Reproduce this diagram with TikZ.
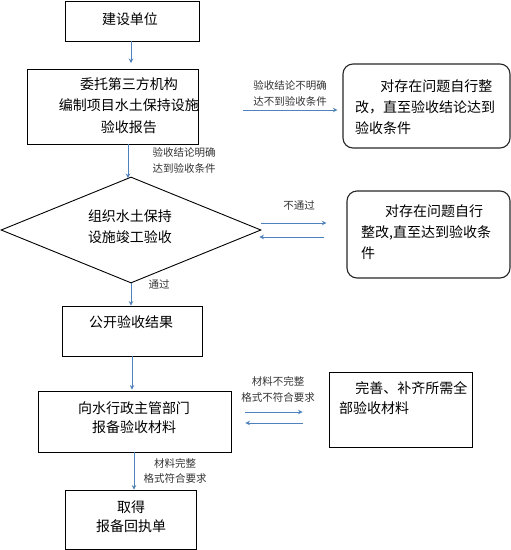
\documentclass[tikz,border=0pt]{standalone}
\usepackage{fontspec}
\setmainfont{Noto Sans CJK SC}
\usetikzlibrary{shapes.geometric,arrows.meta}
\definecolor{arrc}{RGB}{79,129,189}
\begin{document}
\begin{tikzpicture}[x=1pt,y=-1pt,
  box/.style={draw=black,line width=0.9pt,inner sep=0,minimum width=#1},
  rbox/.style={draw=black!85,line width=1.1pt,rounded corners=10pt,inner sep=0,minimum width=#1},
  txt/.style={font=\fontsize{14}{21}\selectfont,align=center,inner sep=0},
  ltxt/.style={font=\fontsize{14}{21}\selectfont,align=left,inner sep=0,anchor=west},
  lbl/.style={font=\fontsize{10.5}{15.5}\selectfont,text=black!80,align=center,inner sep=0},
  arr/.style={draw=arrc,line width=0.9pt,-{Stealth[length=4.5pt,width=4.5pt]}}]
\useasboundingbox (0,0) rectangle (511,550);
% boxes
\node[box=134pt,minimum height=40pt] (b1) at (132,21) {};
\node[txt] (t1) at (130,19) {建设单位};
\node[box=171pt,minimum height=75pt] (b2) at (112.5,106.5) {};
\node[txt,font=\fontsize{14}{21.5}\selectfont] (t2) at (129,105.5) {委托第三方机构\\编制项目水土保持设施\\验收报告};
\node[rbox=167pt,minimum height=84pt] (r1) at (426.5,106) {};
\node[ltxt] (tr1) at (355,107) {\hspace*{1.8em}对存在问题自行整\\改，直至验收结论达到\\验收条件};
\node[diamond,draw=black,line width=0.9pt,inner sep=0,minimum width=260pt,minimum height=106pt] (dia) at (131,230) {};
\node[txt,font=\fontsize{14}{21}\selectfont] (td) at (130,227) {组织水土保持\\设施竣工验收};
\node[rbox=163pt,minimum height=87pt] (r2) at (428.5,234.5) {};
\node[ltxt] (tr2) at (361,232) {\hspace*{1.7em}对存在问题自行\\整改,直至达到验收条\\件};
\node[box=140pt,minimum height=50pt] (b3) at (132,331) {};
\node[txt] (t3) at (131,322) {公开验收结果};
\node[box=193pt,minimum height=61pt] (b4) at (134.5,421.5) {};
\node[txt,font=\fontsize{14}{19}\selectfont] (t4) at (134,417.5) {向水行政主管部门\\报备验收材料};
\node[box=143pt,minimum height=75pt] (r3) at (400.5,409.5) {};
\node[ltxt,font=\fontsize{14}{20}\selectfont] (tr3) at (339,398) {\hspace*{1.15em}完善、补齐所需全\\部验收材料};
\node[box=131pt,minimum height=59pt] (b5) at (130.5,519.5) {};
\node[txt,font=\fontsize{14}{19.5}\selectfont] (t5) at (131,516.5) {取得\\报备回执单};
% helper coordinates
\coordinate (a1) at (131,63);
\coordinate (y2) at (0,110);
\coordinate (x3) at (128,0);
\coordinate (y4a) at (0,223);
\coordinate (y4b) at (0,237);
\coordinate (y7a) at (0,412);
\coordinate (y7b) at (0,423);
\coordinate (x8) at (134,0);
% connectors
\draw[arr] (b1.south -| a1) -- (a1);
\draw[arr,shorten <=45pt,shorten >=5pt] (b2.east |- y2) -- (r1.west |- y2);
\draw[arr] (b2.south -| x3) -- (x3 |- 0,178);
\draw[arr,shorten >=20pt] (dia.east |- y4a) -- (r2.west |- y4a);
\draw[arr,shorten <=22pt,shorten >=-2pt] (r2.west |- y4b) -- (dia.east |- y4b);
\draw[arr] (dia.south) -- (dia.south |- b3.north);
\draw[arr,shorten >=1pt] (b3.south) -- (b3.south |- b4.north);
\draw[arr,shorten <=14pt,shorten >=26pt] (b4.east |- y7a) -- (r3.west |- y7a);
\draw[arr,shorten <=26pt,shorten >=14pt] (r3.west |- y7b) -- (b4.east |- y7b);
\draw[arr] (b4.south -| x8) -- (b5.north -| x8);
% labels
\node[lbl] (l1) at (290,93.5) {验收结论不明确\\达不到验收条件};
\node[lbl] (l2) at (184,160.5) {验收结论明确\\达到验收条件};
\node[lbl] (l3) at (299,206) {不通过};
\node[lbl] (l4) at (159,284) {通过};
\node[lbl] (l5) at (278,389.5) {材料不完整\\格式不符合要求};
\node[lbl] (l6) at (175,471) {材料完整\\格式符合要求};
\end{tikzpicture}
\end{document}
